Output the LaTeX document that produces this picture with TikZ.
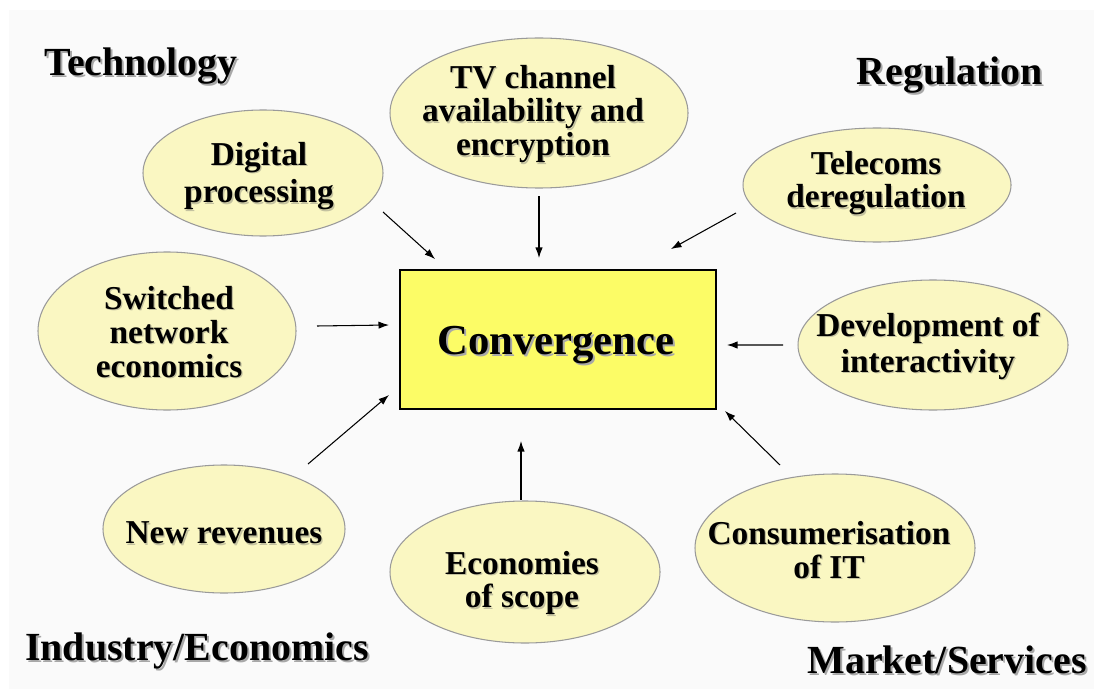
\documentclass[tikz,border=0pt]{standalone}
\usepackage{fontspec}
\setmainfont{Liberation Serif}
\usetikzlibrary{calc,shapes.geometric,arrows.meta}
\definecolor{pagebg}{HTML}{FAFAFA}
\definecolor{ovalfill}{HTML}{FAF7C2}
\definecolor{ovalline}{HTML}{9A9A9A}
\definecolor{boxfill}{HTML}{FCFC66}
\definecolor{shadowgray}{HTML}{A8A8A8}
\definecolor{softshadow}{HTML}{C4C2A0}

% heading text with a grey drop shadow: [style]{name}{x,y}{text}
\newcommand\shadowtext[4][]{%
  \node[txt,#1,text=shadowgray] at ($(#3)+(2,2)$) {#4};
  \node[txt,#1] (#2) at (#3) {#4};}

% label inside an oval, with a fainter shadow: [style]{name}{x,y}{text}
\newcommand\ovaltext[4][]{%
  \node[txt,#1,text=softshadow] at ($(#3)+(1.3,1.3)$) {#4};
  \node[txt,#1] (#2) at (#3) {#4};}

% oval factor: {name}{x,y}{half width}{half height}
\newcommand\factor[4]{%
  \node[oval,minimum width={2*#3*0.02cm},minimum height={2*#4*0.02cm}] (#1) at (#2) {};}

\begin{document}
\begin{tikzpicture}[x=0.02cm,y=-0.02cm,
  oval/.style={ellipse,draw=ovalline,fill=ovalfill,line width=0.6pt,inner sep=0pt},
  txt/.style={font=\bfseries\fontsize{19}{19.2}\selectfont,align=center,inner sep=0pt},
  head/.style={font=\bfseries\fontsize{22.7}{26}\selectfont},
  big/.style={font=\bfseries\fontsize{24.3}{28}\selectfont},
  feed/.style={-{Latex[length=6pt,width=4.2pt]},line width=0.6pt}]

\useasboundingbox (0,0) rectangle (1094,689);
\fill[white] (0,0) rectangle (1094,689);
\fill[pagebg] (9,10) rectangle (1094,689);

% central box
\node[draw=black,fill=boxfill,line width=1.1pt,minimum width={316*0.02cm},
      minimum height={139*0.02cm},inner sep=0pt] (box) at (558,339.5) {};
\shadowtext[big]{conv}{556,345}{Convergence}

% corner headings
\shadowtext[head]{tech}{141,66}{Technology}
\shadowtext[head]{reg}{950,75}{Regulation}
\shadowtext[head]{ind}{197,651}{Industry/Economics}
\shadowtext[head]{mkt}{947,660}{Market/Services}

% surrounding factors
\factor{dig}{263,173}{120}{63}
\factor{tv}{539,113}{149}{75}
\factor{tel}{877,185}{134}{57}
\factor{sw}{167,331}{129}{79}
\factor{dev}{933,345}{135}{65}
\factor{rev}{224,529}{121}{64}
\factor{eco}{525,572}{135}{71}
\factor{con}{835,548}{140}{74}

\ovaltext[font=\bfseries\fontsize{19}{21.5}\selectfont]{digt}{259,176}{Digital\\processing}
\ovaltext{tvt}{533,114}{TV channel\\availability and\\encryption}
\ovaltext{telt}{876,183}{Telecoms\\deregulation}
\ovaltext{swt}{169,332}{Switched\\network\\economics}
\ovaltext[font=\bfseries\fontsize{19}{20.5}\selectfont]{devt}{928,346}{Development of\\interactivity}
\ovaltext{revt}{224,533}{New revenues}
\ovaltext{ecot}{522,583}{Economies\\of scope}
\ovaltext{cont}{829,550}{Consumerisation\\of IT}

% influences on convergence
\draw[feed] ($(dig)+(120,39)$) -- ($(box.north west)+(36,-10)$);
\draw[feed] ($(tv)+(0,83)$) -- ($(box.north)+(-19,-11)$);
\draw[feed] ($(tel)+(-141,28)$) -- ($(box.north east)+(-46,-20)$);
\draw[feed] ($(sw)+(150,-5)$) -- ($(box.west)+(-10,-14.5)$);
\draw[feed] ($(dev)+(-150,0)$) -- ($(box.east)+(10,5.5)$);
\draw[feed] ($(rev)+(84,-65)$) -- ($(box.south west)+(-10,-15)$);
\draw[feed] ($(eco)+(-4,-72)$) -- ($(box.south)+(-37,31)$);
\draw[feed] ($(con)+(-55,-83)$) -- ($(box.south east)+(8,1)$);
\end{tikzpicture}
\end{document}
